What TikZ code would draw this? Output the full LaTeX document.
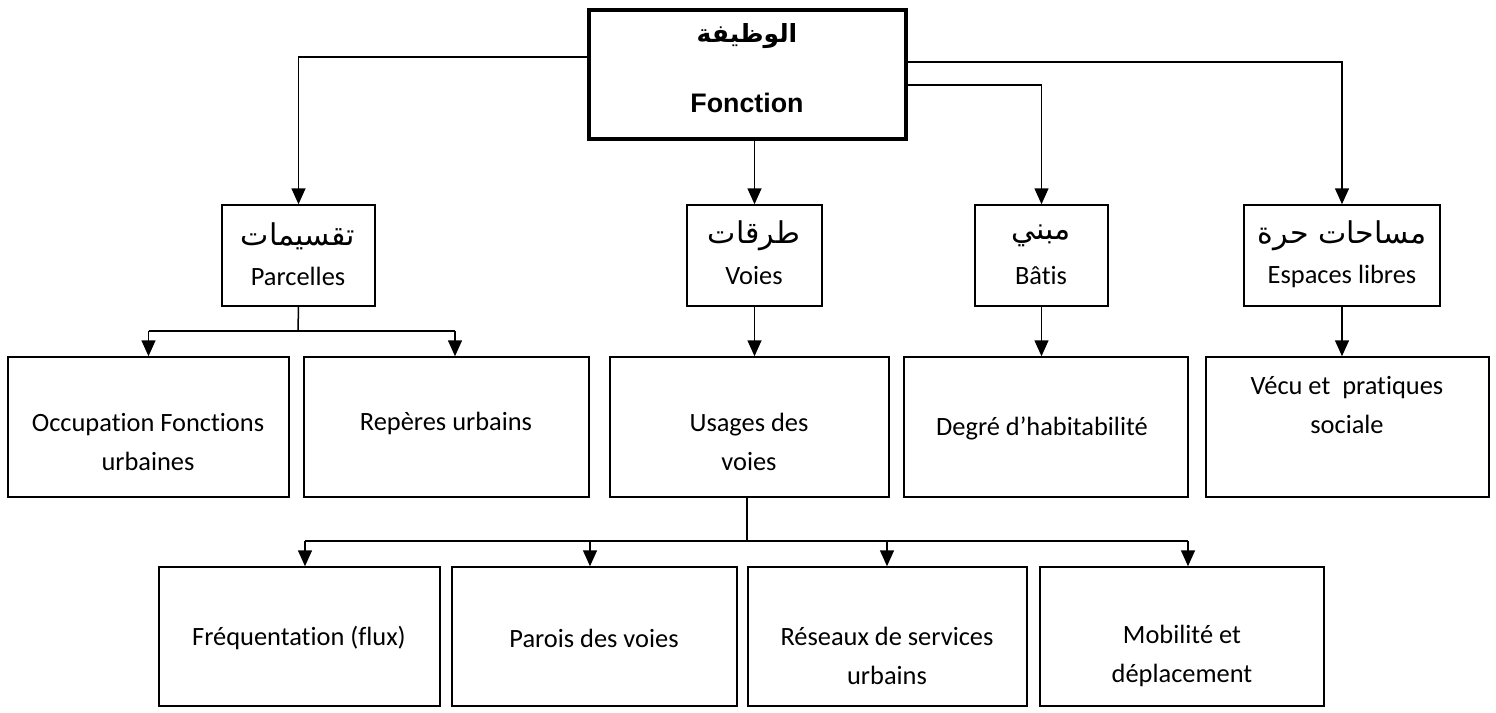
\documentclass[tikz,border=0pt]{standalone}
\usepackage{fontspec}
\setmainfont{Carlito}[Ligatures={NoCommon}]
\newfontfamily\arabicfont[Script=Arabic]{DejaVu Sans}
\newfontfamily\arialfont{Liberation Sans}
\TeXXeTstate=1
\usetikzlibrary{arrows.meta,fit}
\begin{document}
\begin{tikzpicture}[x=0.5pt,y=-0.5pt,
  box/.style={draw,line width=0.75pt,inner sep=0pt,fill=white},
  topbox/.style={draw,line width=2pt,inner sep=0pt},
  txt/.style={inner sep=0pt,align=center,font=\fontsize{13.2}{19.5}\selectfont},
  ar/.style={inner sep=0pt,font=\fontsize{15}{18}\selectfont\arabicfont},
  conn/.style={line width=0.75pt},
  arr/.style={line width=0.75pt,-{Triangle[width=7pt,length=8pt]}}]
\useasboundingbox (0,0) rectangle (1496,713);
% boxes
\node[topbox,fit={(589,10) (906,139)}] (top) {};
\node[box,fit={(222,205) (375,306)}] (parc) {};
\node[box,fit={(687,205) (822,306)}] (voies) {};
\node[box,fit={(975,205) (1108,306)}] (batis) {};
\node[box,fit={(1244,205) (1440,306)}] (esp) {};
\node[box,fit={(8,357) (289,497)}] (occ) {};
\node[box,fit={(304,357) (589,497)}] (rep) {};
\node[box,fit={(610,357) (889,497)}] (usa) {};
\node[box,fit={(904,357) (1188,497)}] (deg) {};
\node[box,fit={(1206,357) (1489,497)}] (vec) {};
\node[box,fit={(159,567) (440,706)}] (freq) {};
\node[box,fit={(452,567) (737,706)}] (par) {};
\node[box,fit={(748,567) (1027,706)}] (res) {};
\node[box,fit={(1040,567) (1324,706)}] (mob) {};
% texts
\node[inner sep=0pt,font=\fontsize{12.5}{14}\selectfont\arabicfont\bfseries] (t1) at (747,36) {\beginR الوظيفة\endR};
\node[inner sep=0pt,font=\fontsize{13.4}{16}\selectfont\arialfont\bfseries] (t2) at (747,103) {Fonction};
\node[ar] (a1) at (298,236) {\beginR تقسيمات\endR};
\node[txt] (l1) at (298,276) {Parcelles};
\node[ar] (a2) at (754,236) {\beginR طرقات\endR};
\node[txt] (l2) at (754,276) {Voies};
\node[ar] (a3) at (1041,236) {\beginR مبني\endR};
\node[txt] (l3) at (1041,276) {Bâtis};
\node[ar] (a4) at (1342,236) {\beginR مساحات حرة\endR};
\node[txt] (l4) at (1342,276) {Espaces libres};
\node[txt] (o1) at (148,442) {Occupation Fonctions\\urbaines};
\node[txt] (o2) at (446,423) {Repères urbains};
\node[txt] (o3) at (749,442) {Usages des\\voies};
\node[txt] (o4) at (1042,428) {Degré d’habitabilité};
\node[txt] (o5) at (1347,405) {Vécu et\ \ pratiques\\sociale};
\node[txt] (r1) at (299,638) {Fréquentation (flux)};
\node[txt] (r2) at (594,638) {Parois des voies};
\node[txt] (r3) at (887,656) {Réseaux de services\\urbains};
\node[txt] (r4) at (1182,656) {Mobilité et\\déplacement};
% connectors level 1
\coordinate (yl) at (0,57);
\coordinate (yr1) at (0,62);
\coordinate (yr2) at (0,85);
\draw[arr] (top.west |- yl) -| (parc.north);
\draw[arr] (top.south -| voies.north) -- (voies.north);
\draw[arr] (top.east |- yr2) -| (batis.north);
\draw[arr] (top.east |- yr1) -| (esp.north);
% parcelles branches
\coordinate (pj) at (298,331);
\coordinate (ra) at (455,331);
\draw[conn] (parc.south) -- (pj);
\draw[conn] (pj -| occ.north) -- (ra);
\draw[arr] (pj -| occ.north) -- (occ.north);
\draw[arr] (ra) -- (ra |- rep.north);
% single arrows
\draw[arr] (voies.south) -- (voies.south |- usa.north);
\draw[arr] (batis.south) -- (batis.south |- deg.north);
\draw[arr] (esp.south) -- (esp.south |- vec.north);
% usages branches
\coordinate (uj) at (747,541);
\coordinate (b1) at (305,541);
\coordinate (b2) at (590,541);
\coordinate (b3) at (887,541);
\coordinate (b4) at (1188,541);
\draw[conn] (uj |- usa.south) -- (uj);
\draw[conn] (b1) -- (b4);
\draw[arr] (b1) -- (b1 |- freq.north);
\draw[arr] (b2) -- (b2 |- par.north);
\draw[arr] (b3) -- (b3 |- res.north);
\draw[arr] (b4) -- (b4 |- mob.north);
\end{tikzpicture}
\end{document}
